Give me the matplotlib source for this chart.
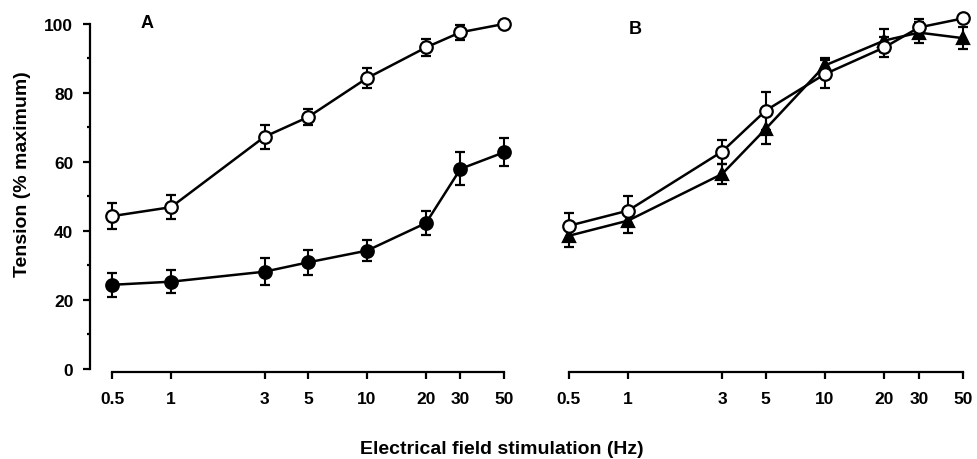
import matplotlib
matplotlib.use("Agg")
import matplotlib.pyplot as plt
from matplotlib.ticker import FixedLocator, NullLocator

plt.rcParams['font.family'] = ['Liberation Sans', 'DejaVu Sans']
plt.rcParams['font.weight'] = 'bold'

# ---- data ----
freq = [0.5, 1, 3, 5, 10, 20, 30, 50]
freq_labels = ['0.5', '1', '3', '5', '10', '20', '30', '50']

# Panel A
a_open = [44.3, 46.9, 67.3, 73.0, 84.3, 93.2, 97.6, 100.0]
a_open_err = [3.8, 3.5, 3.4, 2.4, 2.9, 2.4, 2.2, 0.0]
a_filled = [24.4, 25.3, 28.2, 30.9, 34.3, 42.3, 58.0, 62.8]
a_filled_err = [3.4, 3.3, 4.0, 3.6, 3.0, 3.6, 4.8, 4.1]

# Panel B
b_open = [41.5, 45.9, 63.0, 74.9, 85.5, 93.2, 99.0, 101.6]
b_open_err = [3.7, 4.1, 3.5, 5.5, 4.1, 2.9, 2.5, 0.0]
b_tri = [38.6, 43.0, 56.5, 69.6, 88.0, 95.2, 97.5, 95.9]
b_tri_err = [3.3, 3.6, 2.9, 4.4, 2.2, 3.4, 3.0, 3.1]

FS = 12.5
LFS = 14
fig = plt.figure(figsize=(9.78, 4.6), dpi=100)
xlim = (0.386, 55)
ylim = (-1, 104)
bottom, height = 0.1882, 0.7875
axA = fig.add_axes([0.0920, bottom, 0.4316, height])
axB = fig.add_axes([0.5589, bottom, 0.4338, height])

common = dict(color='black', lw=1.8, elinewidth=1.5, capsize=3.5, capthick=1.5,
              markersize=9, markeredgewidth=1.6, markeredgecolor='black')

axA.errorbar(freq, a_open, yerr=a_open_err, fmt='-o', markerfacecolor='white', zorder=3, **common)
axA.errorbar(freq, a_filled, yerr=a_filled_err, fmt='-o', markerfacecolor='black', zorder=3, **common)
axB.errorbar(freq, b_tri, yerr=b_tri_err, fmt='-^', markerfacecolor='black', zorder=3, **common)
axB.errorbar(freq, b_open, yerr=b_open_err, fmt='-o', markerfacecolor='white', zorder=4, **common)

for ax in (axA, axB):
    ax.set_xscale('log')
    ax.set_xlim(*xlim)
    ax.set_ylim(*ylim)
    ax.xaxis.set_major_locator(FixedLocator(freq))
    ax.xaxis.set_minor_locator(NullLocator())
    ax.set_xticks(freq)
    ax.set_xticklabels(freq_labels, fontsize=FS, fontweight='bold')
    ax.spines['top'].set_visible(False)
    ax.spines['right'].set_visible(False)
    ax.spines['bottom'].set_bounds(0.5, 50)
    ax.spines['bottom'].set_linewidth(1.6)
    ax.tick_params(axis='x', direction='out', length=5, width=1.6, pad=8.5)
    ax.patch.set_alpha(0)

axA.spines['left'].set_bounds(0, 100)
axA.spines['left'].set_linewidth(1.6)
axA.set_yticks([0, 20, 40, 60, 80, 100])
axA.set_yticklabels(['0', '20', '40', '60', '80', '100'], fontsize=FS, fontweight='bold')
axA.set_yticks([10, 30, 50, 70, 90], minor=True)
axA.tick_params(axis='y', which='major', direction='out', length=5, width=1.6, pad=7)
axA.tick_params(axis='y', which='minor', direction='out', length=2.5, width=1.6)

axB.spines['left'].set_visible(False)
axB.set_yticks([])

fig.text(147 / 978, 1 - 23 / 460, 'A', fontsize=13, fontweight='bold', ha='center', va='center')
fig.text(635 / 978, 1 - 30 / 460, 'B', fontsize=13, fontweight='bold', ha='center', va='center')
fig.text(502 / 978, 1 - 450 / 460, 'Electrical field stimulation (Hz)', fontsize=LFS,
         fontweight='bold', ha='center', va='center')
fig.text(23 / 978, 1 - 174 / 460, 'Tension (% maximum)', fontsize=LFS,
         fontweight='bold', ha='center', va='center', rotation=90)

fig.savefig('out.png', dpi=100)
